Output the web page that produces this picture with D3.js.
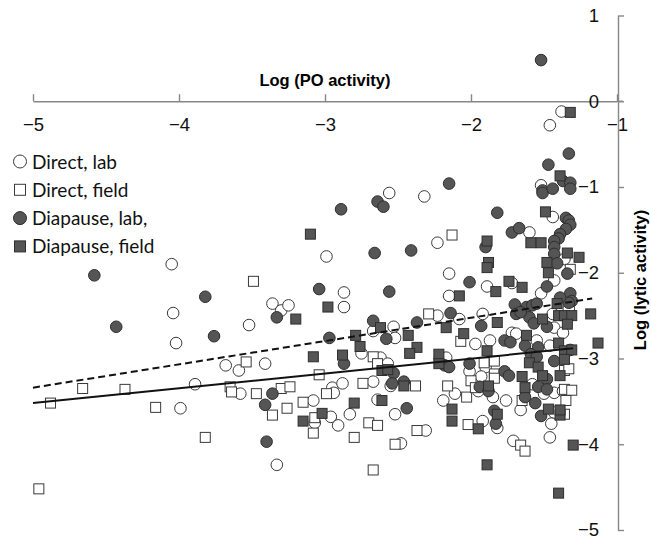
<!DOCTYPE html>
<html>
<head>
<meta charset="utf-8">
<script src="https://cdn.jsdelivr.net/npm/d3@7"></script>
<style>
  body { margin: 0; background: #fff; }
  svg { display: block; }
</style>
</head>
<body>
<svg id="chart" width="651" height="539"></svg>
<script>
'use strict';

// axis ticks
const xTicks = [-5, -4, -3, -2, -1];
const yTicks = [1, 0, -1, -2, -3, -4, -5];

// series: [log PO activity, log lytic activity]
const directLab = [
  [-1.38, -0.12], [-1.46, -0.28], [-1.52, -0.98], [-2.32, -1.11], [-1.44, -1.35], [-1.60, -1.53],
  [-2.23, -1.65], [-1.36, -1.84], [-1.43, -2.09], [-2.15, -2.01], [-1.89, -2.16], [-1.72, -2.12],
  [-1.52, -2.24], [-2.15, -2.27], [-2.56, -1.07], [-2.99, -1.81], [-2.87, -2.23], [-2.87, -2.40],
  [-3.36, -2.36], [-3.30, -2.44], [-3.25, -2.38], [-3.52, -2.61], [-2.53, -2.63], [-2.52, -2.76],
  [-2.67, -2.68], [-2.75, -2.94], [-3.68, -3.08], [-3.59, -3.14], [-3.41, -3.06], [-2.62, -2.99],
  [-2.57, -3.06], [-2.55, -3.32], [-3.58, -3.41], [-2.95, -3.34], [-2.94, -3.40], [-2.88, -3.29],
  [-2.67, -3.27], [-3.08, -3.49], [-2.64, -3.48], [-2.52, -3.65], [-3.07, -3.75], [-2.96, -3.68],
  [-2.91, -3.78], [-2.83, -3.65], [-2.48, -3.99], [-3.33, -4.24], [-4.05, -1.90], [-4.04, -2.47],
  [-4.02, -2.82], [-3.89, -3.30], [-3.99, -3.58], [-2.23, -2.50], [-2.08, -2.54], [-1.92, -2.48],
  [-1.43, -2.64], [-1.37, -2.70], [-1.97, -2.83], [-1.87, -2.79], [-1.72, -2.70], [-1.69, -2.71],
  [-1.55, -2.79], [-1.46, -2.85], [-2.17, -2.99], [-2.01, -3.15], [-1.90, -3.10], [-1.58, -3.30],
  [-1.50, -3.41], [-1.43, -3.40], [-1.37, -3.38], [-1.66, -3.60], [-1.43, -3.63], [-1.45, -3.76],
  [-1.46, -3.92], [-1.71, -3.96], [-2.31, -3.84], [-2.19, -3.49], [-2.11, -3.41], [-1.93, -3.21],
  [-1.95, -3.38], [-1.85, -3.45], [-1.76, -3.49], [-1.82, -3.81], [-1.92, -3.73], [-1.44, -2.48],
  [-1.33, -2.42]
];
const directField = [
  [-2.13, -1.56], [-1.32, -1.96], [-3.49, -2.10], [-3.54, -3.04], [-2.67, -2.98], [-2.64, -3.06],
  [-3.04, -3.19], [-3.65, -3.33], [-3.64, -3.39], [-3.47, -3.41], [-3.30, -3.35], [-3.24, -3.33],
  [-2.99, -3.41], [-2.74, -3.29], [-3.36, -3.66], [-3.26, -3.58], [-3.15, -3.51], [-3.07, -3.69],
  [-3.08, -3.87], [-2.70, -3.75], [-2.64, -3.78], [-2.80, -3.92], [-3.82, -3.92], [-2.52, -4.00],
  [-2.37, -3.84], [-2.67, -4.30], [-4.66, -3.35], [-4.37, -3.36], [-4.88, -3.52], [-4.16, -3.57],
  [-4.96, -4.52], [-2.29, -2.48], [-2.07, -2.80], [-1.91, -3.05], [-1.84, -3.03], [-1.84, -3.18],
  [-1.36, -3.14], [-1.33, -3.12], [-1.65, -3.49], [-1.36, -3.36], [-1.31, -3.37], [-1.35, -3.49],
  [-1.36, -3.65], [-1.66, -4.01], [-1.63, -4.08], [-2.16, -3.32], [-2.03, -3.45], [-2.00, -3.26],
  [-1.97, -3.34], [-1.84, -3.23], [-2.02, -3.77], [-2.38, -3.32]
];
const diapauseLab = [
  [-1.52, 0.48], [-1.33, -0.61], [-1.47, -0.74], [-1.37, -0.93], [-1.32, -0.95], [-1.51, -1.04],
  [-1.51, -1.07], [-1.44, -1.02], [-1.32, -1.02], [-2.15, -0.96], [-1.82, -1.30], [-1.35, -1.36],
  [-1.33, -1.39], [-1.32, -1.44], [-1.35, -1.49], [-1.39, -1.55], [-1.40, -1.60], [-1.43, -1.63],
  [-1.72, -1.53], [-1.67, -1.48], [-1.43, -1.70], [-1.90, -1.70], [-2.41, -1.74], [-1.43, -1.78],
  [-1.41, -1.89], [-1.34, -2.01], [-2.01, -2.11], [-1.48, -2.16], [-1.32, -2.24], [-1.31, -2.33],
  [-1.33, -2.35], [-2.64, -1.17], [-2.60, -1.23], [-2.89, -1.26], [-2.66, -1.77], [-3.82, -2.28],
  [-3.04, -2.19], [-2.56, -2.22], [-3.33, -2.52], [-3.76, -2.74], [-2.67, -2.56], [-2.58, -2.77],
  [-2.37, -2.58], [-2.97, -2.76], [-2.87, -3.06], [-2.53, -3.17], [-2.54, -3.29], [-2.46, -3.27],
  [-3.36, -3.41], [-3.41, -3.54], [-2.44, -3.58], [-3.40, -3.97], [-4.58, -2.03], [-4.43, -2.63],
  [-1.70, -2.37], [-1.62, -2.40], [-1.58, -2.38], [-1.55, -2.36], [-2.14, -2.47], [-1.93, -2.62],
  [-1.69, -2.48], [-1.60, -2.52], [-1.66, -2.46], [-1.48, -2.63], [-1.57, -2.59], [-1.77, -2.79],
  [-1.73, -2.81], [-1.63, -2.85], [-1.54, -2.87], [-1.32, -2.90], [-2.18, -3.08], [-2.15, -3.10],
  [-2.01, -3.06], [-1.77, -3.15], [-1.59, -2.95], [-1.55, -2.98], [-1.43, -3.03], [-1.48, -3.24],
  [-1.54, -3.33], [-1.48, -3.36], [-1.63, -3.45], [-1.56, -3.52], [-1.52, -3.67], [-1.94, -3.33],
  [-1.88, -3.38], [-1.74, -3.20], [-1.84, -3.61], [-1.83, -3.76], [-1.39, -2.29]
];
const diapauseField = [
  [-1.32, -0.13], [-1.39, -0.87], [-1.49, -1.29], [-1.59, -1.65], [-1.52, -1.65], [-1.89, -1.63],
  [-1.88, -1.88], [-1.89, -1.94], [-1.34, -1.77], [-1.48, -1.88], [-1.26, -1.82], [-1.47, -2.00],
  [-1.74, -2.10], [-1.65, -2.17], [-1.83, -2.22], [-2.08, -2.27], [-3.10, -1.55], [-2.98, -2.40],
  [-3.20, -2.54], [-2.62, -2.64], [-2.43, -2.73], [-2.79, -2.73], [-2.76, -2.86], [-3.08, -2.98],
  [-2.88, -2.96], [-2.37, -2.87], [-2.42, -2.94], [-2.61, -3.14], [-2.57, -3.13], [-2.46, -3.32],
  [-2.80, -3.52], [-2.61, -3.49], [-3.02, -3.64], [-3.15, -3.73], [-1.41, -2.36], [-1.40, -2.50],
  [-1.36, -2.50], [-1.31, -2.50], [-1.18, -2.48], [-1.82, -2.58], [-1.51, -2.54], [-1.34, -2.60],
  [-2.17, -2.64], [-2.05, -2.71], [-1.89, -2.91], [-1.62, -2.73], [-1.40, -2.82], [-1.36, -2.91],
  [-1.31, -2.90], [-1.13, -2.82], [-2.22, -2.95], [-2.22, -3.06], [-1.60, -3.05], [-1.36, -3.01],
  [-1.39, -3.20], [-1.54, -3.10], [-1.51, -3.20], [-1.63, -3.34], [-1.47, -3.59], [-1.39, -3.66],
  [-1.39, -3.60], [-1.30, -4.01], [-1.89, -4.24], [-1.40, -4.57], [-2.13, -3.59], [-2.13, -3.73],
  [-1.88, -3.32], [-1.65, -3.21], [-1.82, -3.65], [-1.95, -3.82]
];

// fitted trend lines (endpoints)
const fitSolid = [[-5.0, -3.52], [-1.30, -2.88]];
const fitDashed = [[-5.0, -3.34], [-1.17, -2.30]];

const legendNames = ['Direct, lab', 'Direct, field', 'Diapause, lab,', 'Diapause, field'];

const svg = d3.select('#chart');
const axisColor = '#878787';
const arial = '"Liberation Sans", Arial, Helvetica, sans-serif';

const x = d3.scaleLinear().domain([-5, -1]).range([33, 617]);
const y = d3.scaleLinear().domain([-5, 1]).range([530, 15.5]);

const series = [
  { data: directLab, shape: 'circle', fill: '#fff', stroke: '#3a3a3a' },
  { data: directField, shape: 'square', fill: '#fff', stroke: '#3a3a3a' },
  { data: diapauseLab, shape: 'circle', fill: '#555', stroke: '#2e2e2e' },
  { data: diapauseField, shape: 'square', fill: '#555', stroke: '#2e2e2e' }
];

// ── axes ────────────────────────────────────────────────────────────────────
const intFmt = d3.format('d');

const xAxis = svg.append('g')
  .attr('transform', `translate(0,${y(0)})`)
  .call(d3.axisBottom(x).tickValues(xTicks).tickFormat(intFmt)
    .tickSizeInner(-7).tickSizeOuter(0).tickPadding(17));

svg.append('line')
  .attr('x1', x(-1)).attr('x2', x(-1) + 6)
  .attr('y1', y(0)).attr('y2', y(0))
  .attr('stroke', axisColor).attr('stroke-width', 1.4);

const yAxis = svg.append('g')
  .attr('transform', `translate(${x(-1) + 1},0)`)
  .call(d3.axisLeft(y).tickValues(yTicks).tickFormat(intFmt)
    .tickSizeInner(-6).tickSizeOuter(0).tickPadding(19));

[xAxis, yAxis].forEach(g => {
  g.attr('font-family', arial).attr('font-size', 18.5);
  g.select('.domain').attr('stroke', axisColor).attr('stroke-width', 1.4);
  g.selectAll('.tick line').attr('stroke', axisColor).attr('stroke-width', 1.4);
  g.selectAll('.tick text').attr('fill', '#111');
});

svg.append('text')
  .attr('x', 325).attr('y', 86)
  .attr('text-anchor', 'middle')
  .attr('font-family', arial).attr('font-size', 16.5).attr('font-weight', 'bold')
  .text('Log (PO activity)');

svg.append('text')
  .attr('transform', 'translate(646,280) rotate(-90)')
  .attr('text-anchor', 'middle')
  .attr('font-family', arial).attr('font-size', 16.5).attr('font-weight', 'bold')
  .text('Log (lytic activity)');

// ── points ──────────────────────────────────────────────────────────────────
const r = 5.8, sq = 10;
series.forEach(s => {
  const g = svg.append('g');
  if (s.shape === 'circle') {
    g.selectAll('circle').data(s.data).join('circle')
      .attr('cx', d => x(d[0])).attr('cy', d => y(d[1])).attr('r', r)
      .attr('fill', s.fill).attr('stroke', s.stroke).attr('stroke-width', 1);
  } else {
    g.selectAll('rect').data(s.data).join('rect')
      .attr('x', d => x(d[0]) - sq / 2).attr('y', d => y(d[1]) - sq / 2)
      .attr('width', sq).attr('height', sq)
      .attr('fill', s.fill).attr('stroke', s.stroke).attr('stroke-width', 1);
  }
});

// ── trend lines ─────────────────────────────────────────────────────────────
const line = d3.line().x(d => x(d[0])).y(d => y(d[1]));
svg.append('path').attr('d', line(fitSolid))
  .attr('fill', 'none').attr('stroke', '#111').attr('stroke-width', 2);
svg.append('path').attr('d', line(fitDashed))
  .attr('fill', 'none').attr('stroke', '#111').attr('stroke-width', 2)
  .attr('stroke-dasharray', '7,4');

// ── legend ──────────────────────────────────────────────────────────────────
const legend = svg.append('g');
legendNames.forEach((name, i) => {
  const s = series[i];
  const cy = 161.5 + i * 28.3;
  if (s.shape === 'circle') {
    legend.append('circle').attr('cx', 20).attr('cy', cy).attr('r', 6.5)
      .attr('fill', s.fill).attr('stroke', s.stroke).attr('stroke-width', 1);
  } else {
    legend.append('rect').attr('x', 14.5).attr('y', cy - 5.5).attr('width', 11).attr('height', 11)
      .attr('fill', s.fill).attr('stroke', s.stroke).attr('stroke-width', 1);
  }
  legend.append('text')
    .attr('x', 32).attr('y', cy + 7)
    .attr('fill', '#111')
    .attr('font-family', 'Lato, "Open Sans", sans-serif')
    .attr('font-size', 19)
    .text(name);
});
</script>
</body>
</html>
